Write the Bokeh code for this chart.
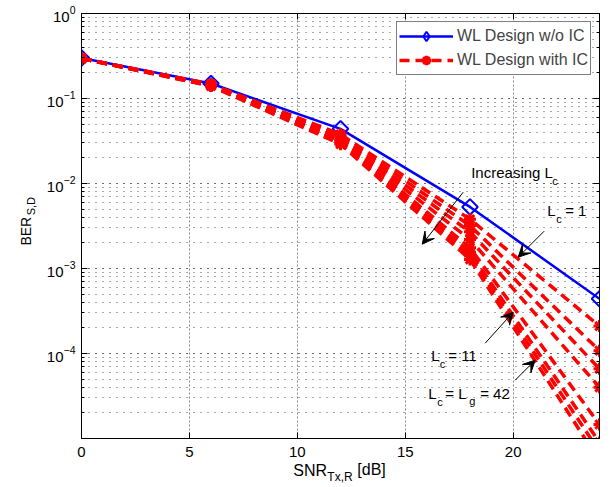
import numpy as np
from bokeh.plotting import figure
from bokeh.models import (Label, Arrow, VeeHead, Legend, LegendItem, FixedTicker,
                          LogTicker, LinearAxis, LogAxis, CustomJSTickFormatter,
                          LogTickFormatter, Range1d)
from bokeh.embed import file_html
from bokeh.resources import INLINE

# ---------------- data ----------------
snr_db = [0, 6, 12, 18, 24]
x_ticks = [0, 5, 10, 15, 20]

ber_wo_ic = [0.30, 0.150, 0.044, 5.3e-3, 4.4e-4]

ber_ic_1 = [0.296, 0.147, 0.038, 3.8e-3, 2.1e-4]
ber_ic_2 = [0.296, 0.146, 0.036, 3.2e-3, 1.08e-4]
ber_ic_3 = [0.296, 0.145, 0.034, 2.7e-3, 6.6e-5]
ber_ic_4 = [0.296, 0.144, 0.033, 2.2e-3, 4.0e-5]
ber_ic_5 = [0.296, 0.143, 0.032, 1.75e-3, 1.46e-5]
ber_ic_6 = [0.296, 0.142, 0.031, 1.55e-3, 9.0e-6]
ber_ic_7 = [0.296, 0.141, 0.030, 1.40e-3, 7.0e-6]
ber_ic_8 = [0.296, 0.140, 0.029, 1.28e-3, 5.4e-6]
ber_with_ic = [ber_ic_1, ber_ic_2, ber_ic_3, ber_ic_4,
               ber_ic_5, ber_ic_6, ber_ic_7, ber_ic_8]

FONT = "Liberation Sans"

# ---------------- figure ----------------
p = figure(frame_width=518, frame_height=425,
           x_range=Range1d(0, 24), y_range=Range1d(1.0001e-5, 1),
           y_axis_type="log", output_backend="svg", toolbar_location=None,
           min_border_left=81, min_border_right=15, min_border_top=13,
           min_border_bottom=47,
           background_fill_color="white", border_fill_color="white",
           outline_line_color="black")

empty = CustomJSTickFormatter(code="return ''")

p.xaxis.ticker = FixedTicker(ticks=x_ticks, minor_ticks=[])
p.xaxis.major_label_text_font = FONT
p.xaxis.major_label_text_font_size = "15px"
p.xaxis.major_label_text_color = "black"
p.xaxis.major_label_standoff = 8
p.xaxis.major_tick_in = 6
p.xaxis.major_tick_out = 0
p.xaxis.axis_line_color = "black"
p.xaxis.major_tick_line_color = "black"

p.yaxis.formatter = LogTickFormatter()
p.yaxis.major_label_text_font = FONT
p.yaxis.major_label_text_font_size = "15px"
p.yaxis.major_label_text_color = "black"
p.yaxis.major_label_standoff = 6
p.yaxis.major_tick_in = 6
p.yaxis.major_tick_out = 0
p.yaxis.minor_tick_in = 3
p.yaxis.minor_tick_out = 0
p.yaxis.axis_line_color = "black"
p.yaxis.major_tick_line_color = "black"
p.yaxis.minor_tick_line_color = "black"

top_ax = LinearAxis(ticker=FixedTicker(ticks=x_ticks, minor_ticks=[]), formatter=empty,
                    major_label_text_font_size="0px", major_label_standoff=0,
                    major_tick_in=6, major_tick_out=0, axis_line_color="black")
p.add_layout(top_ax, "above")
right_ax = LogAxis(ticker=LogTicker(), formatter=empty,
                   major_label_text_font_size="0px", major_label_standoff=0,
                   major_tick_in=6, major_tick_out=0, minor_tick_in=3, minor_tick_out=0,
                   axis_line_color="black")
p.add_layout(right_ax, "right")

p.xgrid.ticker = FixedTicker(ticks=x_ticks[1:], minor_ticks=[])
p.xgrid.grid_line_color = "#8a8a8a"
p.xgrid.grid_line_dash = "2 2"
p.xgrid.grid_line_width = 1
p.ygrid.grid_line_color = "#555555"
p.ygrid.grid_line_dash = "1 6"
p.ygrid.minor_grid_line_color = "#555555"
p.ygrid.minor_grid_line_dash = "1 6"

# ---------------- series ----------------
blue_line = p.line(snr_db, ber_wo_ic, line_color="blue", line_width=2.5)
blue_mark = p.scatter(snr_db, ber_wo_ic, marker="square", angle=np.pi / 4, size=11,
                      line_color="blue", line_width=2, fill_alpha=0)
# legend-only glyph (a single NaN, draws nothing) so the legend shows a diamond
blue_legend_mark = p.scatter(x=[float("nan")], y=[float("nan")], marker="diamond",
                             size=17, line_color="blue", line_width=2, fill_alpha=0)

red_renderers = []
for vals in ber_with_ic:
    rl = p.line(snr_db, vals, line_color="red", line_width=3.5, line_dash="10 6")
    rm = p.scatter(snr_db, vals, marker="asterisk", size=12, line_color="red",
                   line_width=3)
    red_renderers.append((rl, rm))

legend = Legend(items=[
    LegendItem(label="WL Design w/o IC", renderers=[blue_line, blue_legend_mark]),
    LegendItem(label="WL Design with IC", renderers=list(red_renderers[0])),
], location="top_right", margin=8, padding=2, spacing=0,
    label_text_font=FONT, label_text_font_size="16px", label_standoff=4,
    glyph_width=54, glyph_height=24, label_height=18,
    border_line_color="black", border_line_width=1, background_fill_alpha=1)
p.add_layout(legend)


# ---------------- annotations ----------------
def X(px):
    return (px - 81.0) / 21.6


def Y(py):
    return 10 ** (-(py - 13.3) / 85.0)


def lab(text, px, py, size, align="left", angle=0.0, place="center"):
    p.add_layout(Label(x=X(px), y=Y(py), text=text, text_font=FONT,
                       text_font_size=f"{size}px", text_align=align,
                       text_baseline="middle", angle=angle, text_color="black"),
                 place)


# axis titles (placed in the side panels so they are not clipped to the frame)
lab("BER", 25, 231, 14, align="center", angle=np.pi / 2, place="left")
lab("S,D", 30.5, 206, 11, align="center", angle=np.pi / 2, place="left")
lab("SNR", 293, 470, 16, place="below")
lab("Tx,R", 327, 477, 12, place="below")
lab("[dB]", 357, 469, 16, place="below")

# curve annotations
lab("Increasing L", 471, 172, 15)
lab("c", 552, 181, 11)
lab("L", 547, 210, 15)
lab("c", 556, 219, 11)
lab("= 1", 565, 210, 15)
lab("L", 431, 355, 15)
lab("c", 439.5, 364, 11)
lab("= 11", 448, 355, 15)
lab("L", 428, 393, 15)
lab("c", 437, 402, 11)
lab("= L", 445, 393, 15)
lab("g", 469, 401, 11)
lab("= 42", 480, 393, 15)


def arrow(x0, y0, x1, y1):
    p.add_layout(Arrow(end=VeeHead(size=12, fill_color="black", line_color="black"),
                       x_start=X(x0), y_start=Y(y0), x_end=X(x1), y_end=Y(y1),
                       line_color="black", line_width=1))


arrow(463, 192, 422, 244)
arrow(544, 231, 518, 257)
arrow(485, 343, 513, 312)
arrow(515, 380, 535, 360)

open("out.html", "w").write(file_html(p, INLINE))
